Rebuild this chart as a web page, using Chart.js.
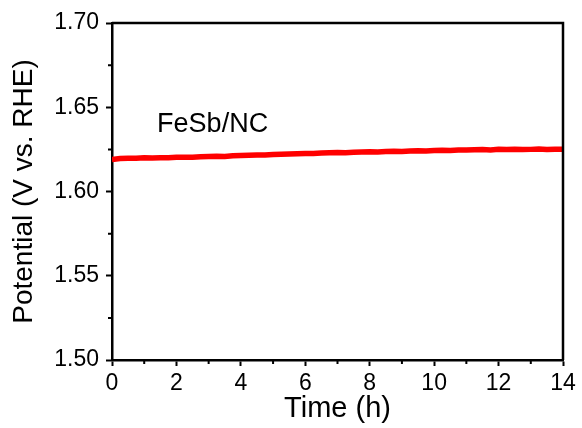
<!DOCTYPE html>
<html>
<head>
<meta charset="utf-8">
<script src="https://cdn.jsdelivr.net/npm/chart.js@4.4.1/dist/chart.umd.min.js"></script>
<style>
  html, body { margin: 0; padding: 0; background: #fff; }
  #wrap { width: 582px; height: 428px; }
</style>
</head>
<body>
<div id="wrap"><canvas id="stability"></canvas></div>
<script>
// ==================[Chronopotentiometry data: FeSb/NC]==================
const timeH = [
    0, 0.25, 0.5, 0.75, 1, 1.25, 1.5, 1.75, 2, 2.25, 2.5, 2.75,
    3, 3.25, 3.5, 3.75, 4, 4.25, 4.5, 4.75, 5, 5.25, 5.5, 5.75,
    6, 6.25, 6.5, 6.75, 7, 7.25, 7.5, 7.75, 8, 8.25, 8.5, 8.75,
    9, 9.25, 9.5, 9.75, 10, 10.25, 10.5, 10.75, 11, 11.25, 11.5, 11.75,
    12, 12.25, 12.5, 12.75, 13, 13.25, 13.5, 13.75, 14
];

const potential = [
    1.6190, 1.6196, 1.6198, 1.6197, 1.6200, 1.6199, 1.6201, 1.6200, 1.6203, 1.6204, 1.6203, 1.6206,
    1.6207, 1.6209, 1.6208, 1.6212, 1.6214, 1.6215, 1.6217, 1.6216, 1.6219, 1.6221, 1.6222, 1.6224,
    1.6226, 1.6225, 1.6228, 1.6230, 1.6231, 1.6230, 1.6233, 1.6234, 1.6236, 1.6235, 1.6238, 1.6239,
    1.6238, 1.6241, 1.6242, 1.6241, 1.6244, 1.6245, 1.6244, 1.6247, 1.6246, 1.6248, 1.6249, 1.6247,
    1.6250, 1.6249, 1.6251, 1.6249, 1.6250, 1.6252, 1.6249, 1.6251, 1.6250
];

const xTicks = [0, 2, 4, 6, 8, 10, 12, 14];
const yTicks = [1.50, 1.55, 1.60, 1.65, 1.70];
const sampleLabel = 'FeSb/NC';

const FONT = '"Liberation Sans", Arial, sans-serif';

// ==================[Frame, minor ticks and sample label]==================
const framePlugin = {
    id: 'frame',
    afterDraw(chart) {
        const ctx = chart.ctx;
        const a = chart.chartArea;
        const xs = chart.scales.x;
        const ys = chart.scales.y;
        ctx.save();
        ctx.strokeStyle = '#000';
        ctx.lineWidth = 2.5;
        ctx.beginPath();
        ctx.moveTo(a.left, a.top);
        ctx.lineTo(a.right, a.top);
        ctx.lineTo(a.right, a.bottom);
        ctx.stroke();

        // minor ticks halfway between the major ones
        ctx.lineWidth = 2;
        ctx.beginPath();
        for (let i = 0; i < xTicks.length - 1; i++) {
            const px = xs.getPixelForValue((xTicks[i] + xTicks[i + 1]) / 2);
            ctx.moveTo(px, a.bottom);
            ctx.lineTo(px, a.bottom + 4);
        }
        for (let i = 0; i < yTicks.length - 1; i++) {
            const py = ys.getPixelForValue((yTicks[i] + yTicks[i + 1]) / 2);
            ctx.moveTo(a.left, py);
            ctx.lineTo(a.left - 4, py);
        }
        ctx.stroke();

        ctx.fillStyle = '#000';
        ctx.font = '27px ' + FONT;
        ctx.textBaseline = 'middle';
        ctx.textAlign = 'left';
        ctx.fillText(sampleLabel, xs.getPixelForValue(1.4), ys.getPixelForValue(1.6395));
        ctx.restore();
    }
};

const config = {
    type: 'line',
    data: {
        datasets: [{
            label: sampleLabel,
            data: timeH.map((t, i) => ({ x: t, y: potential[i] })),
            borderColor: 'rgb(255, 0, 0)',
            borderWidth: 5.5,
            pointRadius: 0,
            tension: 0,
            fill: false
        }]
    },
    options: {
        responsive: true,
        maintainAspectRatio: false,
        animation: false,
        devicePixelRatio: 1,
        layout: { padding: { top: 23, right: 19, left: 0, bottom: 0 } },
        plugins: {
            legend: { display: false },
            tooltip: { enabled: false }
        },
        scales: {
            x: {
                type: 'linear',
                min: 0,
                max: 14,
                afterBuildTicks: (s) => { s.ticks = xTicks.map(v => ({ value: v })); },
                afterFit: (s) => { s.height = 68; },
                ticks: {
                    color: '#000',
                    font: { family: FONT, size: 23 },
                    padding: 4,
                    maxRotation: 0
                },
                grid: {
                    drawOnChartArea: false,
                    drawTicks: true,
                    tickLength: 6,
                    tickWidth: 2,
                    tickColor: '#000'
                },
                border: { display: true, color: '#000', width: 2.5 },
                title: {
                    display: true,
                    text: 'Time (h)',
                    color: '#000',
                    font: { family: FONT, size: 29 },
                    padding: { top: 0, bottom: 2 }
                }
            },
            y: {
                type: 'linear',
                min: 1.5,
                max: 1.7,
                afterBuildTicks: (s) => { s.ticks = yTicks.map(v => ({ value: v })); },
                afterFit: (s) => { s.width = 112; },
                ticks: {
                    color: '#000',
                    font: { family: FONT, size: 23 },
                    padding: 7,
                    callback: (v) => Number(v).toFixed(2)
                },
                grid: {
                    drawOnChartArea: false,
                    drawTicks: true,
                    tickLength: 6,
                    tickWidth: 2,
                    tickColor: '#000'
                },
                border: { display: true, color: '#000', width: 2.5 },
                title: {
                    display: true,
                    text: 'Potential (V vs. RHE)',
                    color: '#000',
                    font: { family: FONT, size: 28 },
                    padding: { top: 7, bottom: 0 }
                }
            }
        }
    },
    plugins: [framePlugin]
};

const stabilityChart = new Chart(document.getElementById('stability'), config);
</script>
</body>
</html>
